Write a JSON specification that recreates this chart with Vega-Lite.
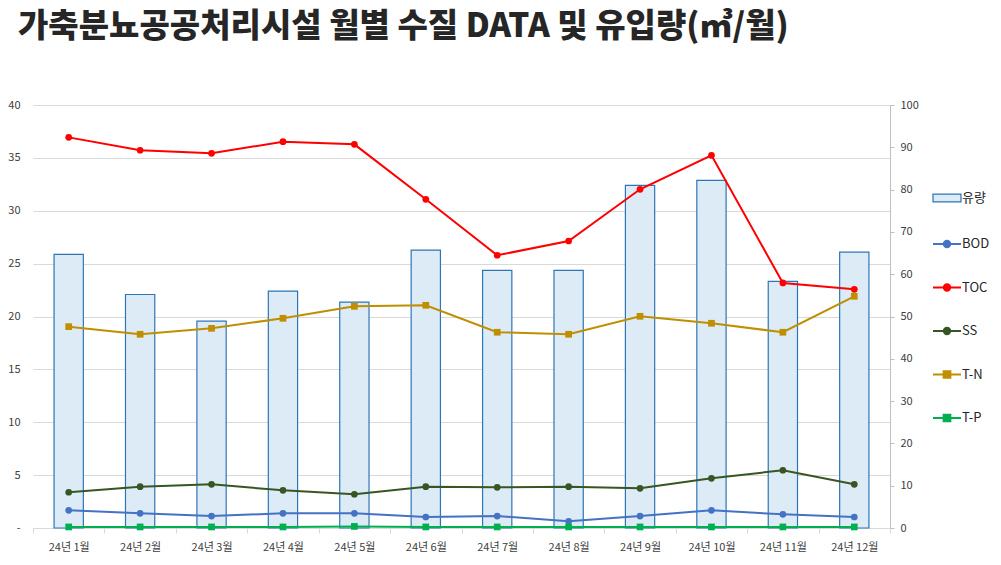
{
  "$schema": "https://vega.github.io/schema/vega-lite/v6.json",
  "autosize": {"type": "none"},
  "width": 857,
  "height": 423,
  "padding": {"left": 33, "top": 105, "right": 111, "bottom": 37},
  "background": "white",
  "config": {"font": "Noto Sans CJK KR", "view": {"stroke": null}},
  "title": {
    "text": "가축분뇨공공처리시설 월별 수질 DATA 및 유입량(㎥/월)",
    "anchor": "start",
    "frame": "group",
    "dx": -15,
    "offset": 55,
    "fontSize": 33,
    "fontWeight": 900,
    "color": "#262626",
    "font": "Noto Sans CJK KR"
  },
  "data": {
    "values": [
      {"m": "24년 1월", "s": "유량", "v": 64.7}, {"m": "24년 1월", "s": "BOD", "v": 1.67}, {"m": "24년 1월", "s": "TOC", "v": 36.94}, {"m": "24년 1월", "s": "SS", "v": 3.38}, {"m": "24년 1월", "s": "T-N", "v": 19.04}, {"m": "24년 1월", "s": "T-P", "v": 0.1},
      {"m": "24년 2월", "s": "유량", "v": 55.2}, {"m": "24년 2월", "s": "BOD", "v": 1.39}, {"m": "24년 2월", "s": "TOC", "v": 35.72}, {"m": "24년 2월", "s": "SS", "v": 3.91}, {"m": "24년 2월", "s": "T-N", "v": 18.32}, {"m": "24년 2월", "s": "T-P", "v": 0.1},
      {"m": "24년 3월", "s": "유량", "v": 48.9}, {"m": "24년 3월", "s": "BOD", "v": 1.13}, {"m": "24년 3월", "s": "TOC", "v": 35.43}, {"m": "24년 3월", "s": "SS", "v": 4.13}, {"m": "24년 3월", "s": "T-N", "v": 18.88}, {"m": "24년 3월", "s": "T-P", "v": 0.1},
      {"m": "24년 4월", "s": "유량", "v": 56.0}, {"m": "24년 4월", "s": "BOD", "v": 1.39}, {"m": "24년 4월", "s": "TOC", "v": 36.53}, {"m": "24년 4월", "s": "SS", "v": 3.56}, {"m": "24년 4월", "s": "T-N", "v": 19.83}, {"m": "24년 4월", "s": "T-P", "v": 0.1},
      {"m": "24년 5월", "s": "유량", "v": 53.4}, {"m": "24년 5월", "s": "BOD", "v": 1.39}, {"m": "24년 5월", "s": "TOC", "v": 36.28}, {"m": "24년 5월", "s": "SS", "v": 3.19}, {"m": "24년 5월", "s": "T-N", "v": 20.96}, {"m": "24년 5월", "s": "T-P", "v": 0.15},
      {"m": "24년 6월", "s": "유량", "v": 65.7}, {"m": "24년 6월", "s": "BOD", "v": 1.04}, {"m": "24년 6월", "s": "TOC", "v": 31.08}, {"m": "24년 6월", "s": "SS", "v": 3.91}, {"m": "24년 6월", "s": "T-N", "v": 21.06}, {"m": "24년 6월", "s": "T-P", "v": 0.1},
      {"m": "24년 7월", "s": "유량", "v": 60.9}, {"m": "24년 7월", "s": "BOD", "v": 1.13}, {"m": "24년 7월", "s": "TOC", "v": 25.79}, {"m": "24년 7월", "s": "SS", "v": 3.85}, {"m": "24년 7월", "s": "T-N", "v": 18.51}, {"m": "24년 7월", "s": "T-P", "v": 0.1},
      {"m": "24년 8월", "s": "유량", "v": 60.9}, {"m": "24년 8월", "s": "BOD", "v": 0.63}, {"m": "24년 8월", "s": "TOC", "v": 27.14}, {"m": "24년 8월", "s": "SS", "v": 3.91}, {"m": "24년 8월", "s": "T-N", "v": 18.32}, {"m": "24년 8월", "s": "T-P", "v": 0.1},
      {"m": "24년 9월", "s": "유량", "v": 81.0}, {"m": "24년 9월", "s": "BOD", "v": 1.13}, {"m": "24년 9월", "s": "TOC", "v": 32.03}, {"m": "24년 9월", "s": "SS", "v": 3.75}, {"m": "24년 9월", "s": "T-N", "v": 20.02}, {"m": "24년 9월", "s": "T-P", "v": 0.1},
      {"m": "24년 10월", "s": "유량", "v": 82.2}, {"m": "24년 10월", "s": "BOD", "v": 1.67}, {"m": "24년 10월", "s": "TOC", "v": 35.24}, {"m": "24년 10월", "s": "SS", "v": 4.7}, {"m": "24년 10월", "s": "T-N", "v": 19.36}, {"m": "24년 10월", "s": "T-P", "v": 0.1},
      {"m": "24년 11월", "s": "유량", "v": 58.3}, {"m": "24년 11월", "s": "BOD", "v": 1.29}, {"m": "24년 11월", "s": "TOC", "v": 23.17}, {"m": "24년 11월", "s": "SS", "v": 5.46}, {"m": "24년 11월", "s": "T-N", "v": 18.51}, {"m": "24년 11월", "s": "T-P", "v": 0.1},
      {"m": "24년 12월", "s": "유량", "v": 65.2}, {"m": "24년 12월", "s": "BOD", "v": 1.04}, {"m": "24년 12월", "s": "TOC", "v": 22.57}, {"m": "24년 12월", "s": "SS", "v": 4.13}, {"m": "24년 12월", "s": "T-N", "v": 21.91}, {"m": "24년 12월", "s": "T-P", "v": 0.1}
    ]
  },
  "encoding": {
    "x": {
      "field": "m",
      "type": "ordinal",
      "sort": null,
      "scale": {"paddingInner": 0, "paddingOuter": 0},
      "axis": {
        "title": null,
        "labelAngle": 0,
        "tickBand": "extent",
        "domainColor": "#D9D9D9",
        "tickColor": "#D9D9D9",
        "tickSize": 5,
        "labelPadding": 8,
        "labelFontSize": 11,
        "labelColor": "#404040",
        "grid": false
      }
    }
  },
  "layer": [
    {
      "transform": [{"filter": "datum.s === '유량'"}],
      "mark": {"type": "bar", "stroke": "#2E75B6", "strokeWidth": 1.2, "fillOpacity": 1, "width": {"band": 0.41}},
      "encoding": {
        "y": {
          "field": "v",
          "type": "quantitative",
          "scale": {"domain": [0, 100]},
          "axis": {
            "orient": "right",
            "title": null,
            "values": [0, 10, 20, 30, 40, 50, 60, 70, 80, 90, 100],
            "grid": false,
            "domain": true,
            "domainColor": "#BFBFBF",
            "ticks": true,
            "tickColor": "#BFBFBF",
            "tickSize": 4,
            "labelPadding": 6,
            "labelFontSize": 11,
            "labelColor": "#404040"
          }
        },
        "fill": {
          "field": "s",
          "type": "nominal",
          "scale": {"domain": ["유량"], "range": ["#DDEBF7"]},
          "legend": {
            "orient": "none",
            "legendX": 899,
            "legendY": 78,
            "title": null,
            "symbolSize": 784,
            "symbolType": "M-1,-0.28H1V0.28H-1Z",
            "symbolStrokeColor": "#2E75B6",
            "symbolStrokeWidth": 1.2,
            "symbolOpacity": 1,
            "labelFontSize": 13,
            "labelColor": "#262626",
            "labelOffset": 0
          }
        }
      }
    },
    {
      "transform": [{"filter": "datum.s !== '유량'"}],
      "encoding": {
        "y": {
          "field": "v",
          "type": "quantitative",
          "scale": {"domain": [0, 40]},
          "axis": {
            "orient": "left",
            "title": null,
            "values": [0, 5, 10, 15, 20, 25, 30, 35, 40],
            "labelExpr": "datum.value === 0 ? '-' : datum.label",
            "domain": false,
            "ticks": false,
            "grid": true,
            "gridColor": "#D9D9D9",
            "labelPadding": 13,
            "labelFontSize": 11,
            "labelColor": "#404040"
          }
        },
        "color": {
          "field": "s",
          "type": "nominal",
          "scale": {
            "domain": ["BOD", "TOC", "SS", "T-N", "T-P"],
            "range": ["#4472C4", "#FF0000", "#375623", "#BF8F00", "#00B050"]
          },
          "legend": {
            "orient": "none",
            "legendX": 899,
            "legendY": 124,
            "title": null,
            "symbolSize": 784,
            "rowPadding": 20.5,
            "labelFontSize": 13,
            "labelColor": "#262626",
            "labelOffset": 0,
            "symbolStrokeWidth": 2,
            "encode": {
              "symbols": {
                "update": {
                  "size": {"value": 784},
                  "shape": {"signal": "(datum.value === 'T-N' || datum.value === 'T-P') ? 'M-1,0H1M-0.24,-0.24H0.24V0.24H-0.24Z' : 'M-1,0H1M-0.23,0A0.23,0.23 0 1 1 0.23,0A0.23,0.23 0 1 1 -0.23,0Z'"},
                  "strokeWidth": {"value": 2},
                  "opacity": {"value": 1}
                }
              }
            }
          }
        }
      },
      "layer": [
        {"mark": {"type": "line", "strokeWidth": 2}},
        {
          "mark": {"type": "point", "filled": true, "opacity": 1, "size": 45},
          "encoding": {
            "shape": {
              "condition": {"test": "datum.s === 'T-N' || datum.s === 'T-P'", "value": "square"},
              "value": "circle"
            }
          }
        }
      ]
    }
  ],
  "resolve": {"scale": {"y": "independent"}}
}
